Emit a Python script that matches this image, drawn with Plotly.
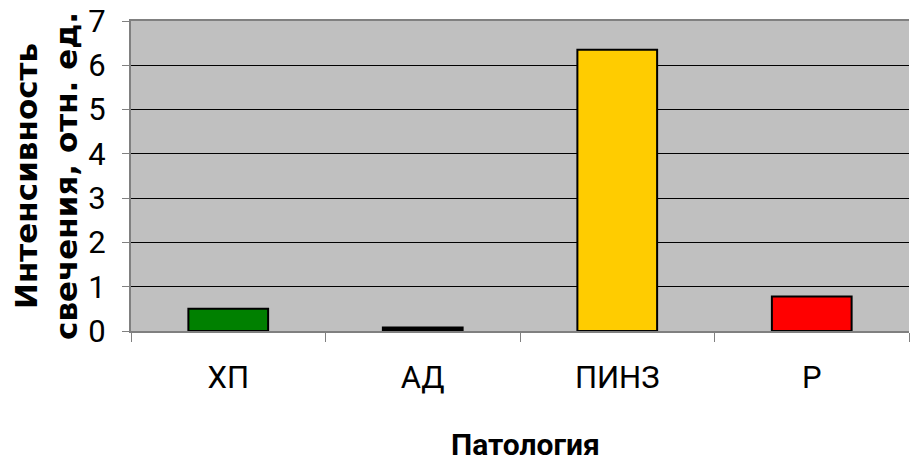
import plotly.graph_objects as go

# Luminescence intensity by pathology group
categories = ["ХП", "АД", "ПИНЗ", "Р"]
values = [0.5, 0.08, 6.35, 0.78]
bar_colors = ["#008000", "#000000", "#FFCC00", "#FF0000"]
y_ticks = [0, 1, 2, 3, 4, 5, 6, 7]

y_title_lines = ["Интенсивность", "свечения, отн. ед."]
x_title = "Патология"

NARROW = "Roboto, Liberation Sans, sans-serif"
WIDE = "DejaVu Sans, sans-serif"

fig = go.Figure(
    go.Bar(
        x=categories,
        y=values,
        marker=dict(color=bar_colors, line=dict(color="#000000", width=2)),
        hoverinfo="x+y",
    )
)

W, H = 910, 465
L, R, T, B = 131, 1, 21, 134
plot_w = W - L - R

fig.update_layout(
    width=W,
    height=H,
    margin=dict(l=L, r=R, t=T, b=B),
    paper_bgcolor="#FFFFFF",
    plot_bgcolor="#C0C0C0",
    bargap=0.59,
    showlegend=False,
    font=dict(family=NARROW, color="#000000"),
)

fig.update_xaxes(
    showline=True,
    linecolor="#808080",
    linewidth=2,
    mirror=True,
    ticks="outside",
    tickson="boundaries",
    ticklen=9,
    tickcolor="#808080",
    tickwidth=1,
    ticklabelstandoff=18,
    tickfont=dict(family=NARROW, size=31, color="#000000"),
    showgrid=False,
    zeroline=False,
)

fig.update_yaxes(
    range=[0, 7],
    tickvals=y_ticks,
    ticktext=[str(v) for v in y_ticks],
    showline=True,
    linecolor="#808080",
    linewidth=2,
    ticks="outside",
    ticklen=7,
    tickcolor="#808080",
    tickwidth=1,
    ticklabelstandoff=10,
    tickfont=dict(family=NARROW, size=31, color="#000000"),
    showgrid=True,
    gridcolor="#000000",
    gridwidth=1,
    zeroline=False,
)

# Two-line rotated y-axis title
for px, line in zip([26, 66], y_title_lines):
    fig.add_annotation(
        text=f"<b>{line}</b>",
        xref="paper",
        yref="paper",
        x=(px - L) / plot_w,
        y=0.5,
        xanchor="center",
        yanchor="middle",
        textangle=-90,
        showarrow=False,
        font=dict(family=WIDE, size=31, color="#000000"),
    )

fig.add_annotation(
    text=f"<b>{x_title}</b>",
    xref="paper",
    yref="paper",
    x=(525 - L) / plot_w,
    y=-(444 - (H - B)) / (H - T - B),
    xanchor="center",
    yanchor="middle",
    showarrow=False,
    font=dict(family=NARROW, size=30, color="#000000"),
)

fig.write_html("out.html")
